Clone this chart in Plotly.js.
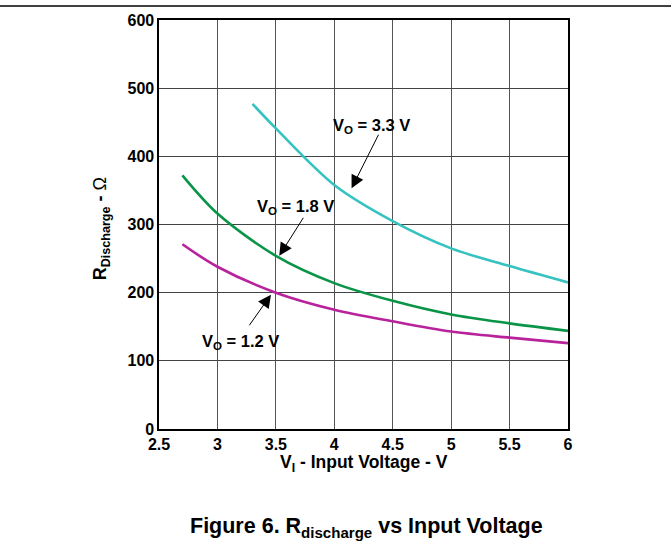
<!DOCTYPE html>
<html>
<head>
<meta charset="utf-8">
<script src="https://cdn.plot.ly/plotly-3.0.1.min.js"></script>
<style>html,body{margin:0;padding:0;background:#fff}#chart{width:671px;height:551px}</style>
</head>
<body>
<div id="chart"></div>
<script>
// Data
var vo33X = [3.3, 3.5, 4.0, 4.5, 5.0, 5.5, 6.0];
var vo33Y = [477, 441, 358, 305, 265, 239, 215];
var vo18X = [2.7, 3.0, 3.5, 4.0, 4.5, 5.0, 5.5, 6.0];
var vo18Y = [372, 316, 254, 214, 188, 168, 155, 144];
var vo12X = [2.7, 3.0, 3.5, 4.0, 4.5, 5.0, 5.5, 6.0];
var vo12Y = [271, 238, 200, 175, 158, 143, 134, 126];
var seriesNames = ['V<sub>O</sub> = 3.3 V', 'V<sub>O</sub> = 1.8 V', 'V<sub>O</sub> = 1.2 V'];
var xTicks = [2.5, 3, 3.5, 4, 4.5, 5, 5.5, 6];
var xTickText = ['2.5', '3', '3.5', '4', '4.5', '5', '5.5', '6'];
var yTicks = [0, 100, 200, 300, 400, 500, 600];

var F = '"Liberation Sans", Arial, sans-serif';
function tr(x, y, c) {
  return {x: x, y: y, type: 'scatter', mode: 'lines',
          line: {color: c, width: 2.6, shape: 'spline', smoothing: 0.9},
          hoverinfo: 'skip', showlegend: false};
}
var data = [
  tr(vo33X, vo33Y, '#35c2c0'),
  tr(vo18X, vo18Y, '#0a9448'),
  tr(vo12X, vo12Y, '#b8239b')
];

function arrow(hx, hy, tx, ty) {
  return {x: hx, y: hy, ax: tx, ay: ty, xref: 'x', yref: 'y', axref: 'x', ayref: 'y',
          text: '', showarrow: true, arrowhead: 2, arrowsize: 2.6, arrowwidth: 1,
          arrowcolor: '#000', standoff: 0};
}
function label(t, x, y) {
  return {x: x, y: y, xref: 'x', yref: 'y', text: '<b>' + t + '</b>', showarrow: false,
          font: {family: F, size: 16.5, color: '#000'}, xanchor: 'center', yanchor: 'middle'};
}

var layout = {
  width: 671, height: 551,
  margin: {l: 159, r: 103, t: 20, b: 122},
  paper_bgcolor: '#fff', plot_bgcolor: '#fff',
  font: {family: F, color: '#000'},
  xaxis: {
    range: [2.5, 6], tickvals: xTicks, ticktext: xTickText, ticks: '',
    showgrid: true, gridcolor: '#555', gridwidth: 1.2, zeroline: false,
    showline: true, linecolor: '#000', linewidth: 1.6, mirror: true,
    tickfont: {family: F, size: 16, weight: 'bold', color: '#000'}
  },
  yaxis: {
    range: [0, 600], tickvals: yTicks, ticks: '',
    showgrid: true, gridcolor: '#444', gridwidth: 1.2, zeroline: false,
    showline: true, linecolor: '#000', linewidth: 1.6, mirror: true,
    tickfont: {family: F, size: 16, weight: 'bold', color: '#000'}
  },
  shapes: [
    {type: 'line', xref: 'paper', yref: 'paper', x0: -0.39, x1: 1.26, y0: 1.034, y1: 1.034,
     line: {color: '#000', width: 1.5}}
  ],
  annotations: [
    arrow(4.148, 353, 4.385, 434),
    arrow(3.529, 254, 3.743, 312),
    arrow(3.458, 197, 3.264, 150),
    label(seriesNames[0], 4.32, 445),
    label(seriesNames[1], 3.67, 325),
    label(seriesNames[2], 3.2, 128),
    {x: 0.5, y: -0.052, xref: 'paper', yref: 'paper', xanchor: 'center', yanchor: 'top',
     text: '<b>V<sub>I</sub> - Input Voltage - V</b>', showarrow: false,
     font: {family: F, size: 17.5, color: '#000'}},
    {x: -0.14, y: 0.49, xref: 'paper', yref: 'paper', xanchor: 'center', yanchor: 'middle',
     textangle: -90, text: '<b>R<sub>Discharge</sub> - </b>Ω', showarrow: false,
     font: {family: F, size: 18, color: '#000'}},
    {x: 0.507, y: -0.242, xref: 'paper', yref: 'paper', xanchor: 'center', yanchor: 'middle',
     text: '<b>Figure 6. R<sub>discharge</sub> vs Input Voltage</b>', showarrow: false,
     font: {family: F, size: 21.5, color: '#000'}}
  ]
};
Plotly.newPlot('chart', data, layout, {staticPlot: true, displayModeBar: false});
</script>
</body>
</html>
